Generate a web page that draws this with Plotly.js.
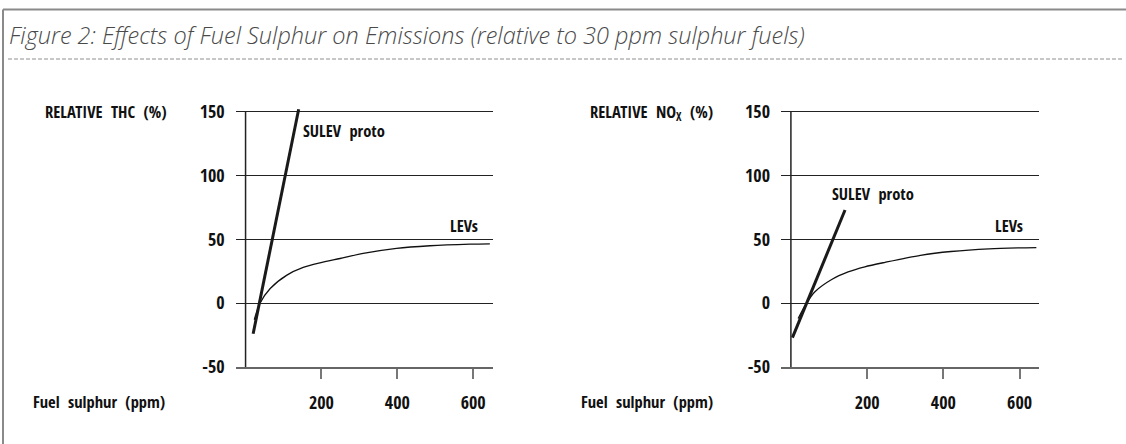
<!DOCTYPE html>
<html>
<head>
<meta charset="utf-8">
<script src="https://cdn.plot.ly/plotly-3.0.1.min.js"></script>
<style>
  html, body { margin: 0; padding: 0; background: #ffffff; }
  #chart { width: 1126px; height: 444px; }
</style>
</head>
<body>
<div id="chart"></div>
<script>
// ---- data ----
const titleText = "Figure 2: Effects of Fuel Sulphur on Emissions (relative to 30 ppm sulphur fuels)";

// Left panel: relative THC (%)
const thcSulevX = [20, 140];
const thcSulevY = [-24, 152];
const thcLevX = [23, 38, 65, 109, 152, 196, 249, 310, 398, 486, 592, 644];
const thcLevY = [-13, 0, 11.5, 22, 28, 31.6, 35, 39, 43, 45, 46.2, 46.5];

// Right panel: relative NOx (%)
const noxSulevX = [4, 142];
const noxSulevY = [-27, 73];
const noxLevX = [19, 41, 63, 107, 150, 194, 247, 340, 420, 520, 644];
const noxLevY = [-12, 0, 9, 18.6, 24.5, 28.5, 32, 37.5, 40.5, 42.6, 43.6];

const yTicks = [-50, 0, 50, 100, 150];
const yTickText = ["-50", "0", "50", "100", "150"];
const xTicks = [200, 400, 600];
const xTickText = ["200", "400", "600"];

const leftYTitle = "RELATIVE&nbsp; THC&nbsp; (%)";
const rightYTitle = "RELATIVE&nbsp; NO<sub>X</sub>&nbsp; (%)";
const xTitle = "Fuel&nbsp; sulphur&nbsp; (ppm)";
const sulevLabel = "SULEV&nbsp; proto";
const levLabel = "LEVs";

// ---- layout helpers ----
const W = 1126, H = 444;
const px = v => v / W;
const py = v => 1 - v / H;
const FONT = "'Open Sans Condensed', 'Roboto Condensed', 'DejaVu Sans Condensed', sans-serif";

const yRange = [-50, 153];
const xRange = [-26, 652];

function xAxis(domain, anchor) {
  return {
    domain: domain, anchor: anchor, range: xRange,
    showgrid: false, zeroline: false,
    showline: true, linecolor: "#666", linewidth: 2,
    ticks: "outside", ticklen: 10, tickwidth: 2, tickcolor: "#777",
    tickvals: xTicks, ticktext: xTickText,
    ticklabelstandoff: 8,
    tickfont: { family: FONT, size: 18, color: "#111", weight: 700 },
    fixedrange: true
  };
}
function yAxis(anchor) {
  return {
    domain: [py(367), py(107.9)], anchor: anchor, range: yRange,
    showgrid: true, gridcolor: "#222", gridwidth: 1.2,
    zeroline: false, showline: false, ticks: "",
    tickvals: yTicks, ticktext: yTickText,
    ticklabelstandoff: 10,
    tickfont: { family: FONT, size: 18, color: "#111", weight: 700 },
    fixedrange: true
  };
}

const traces = [
  { x: thcLevX, y: thcLevY, xaxis: "x", yaxis: "y", mode: "lines",
    line: { color: "#111", width: 1.3, shape: "spline", smoothing: 0.8 }, hoverinfo: "skip" },
  { x: thcSulevX, y: thcSulevY, xaxis: "x", yaxis: "y", mode: "lines",
    line: { color: "#1a1a1a", width: 3 }, hoverinfo: "skip" },
  { x: noxLevX, y: noxLevY, xaxis: "x2", yaxis: "y2", mode: "lines",
    line: { color: "#111", width: 1.3, shape: "spline", smoothing: 0.8 }, hoverinfo: "skip" },
  { x: noxSulevX, y: noxSulevY, xaxis: "x2", yaxis: "y2", mode: "lines",
    line: { color: "#1a1a1a", width: 3 }, hoverinfo: "skip" }
];

const labelFont = { family: FONT, size: 16.5, color: "#111", weight: 700 };

const layout = {
  width: W, height: H,
  margin: { l: 0, r: 0, t: 0, b: 0 },
  paper_bgcolor: "#ffffff", plot_bgcolor: "rgba(0,0,0,0)",
  showlegend: false,
  xaxis: xAxis([px(235.7), px(492.9)], "y"),
  yaxis: yAxis("x"),
  xaxis2: xAxis([px(781), px(1039.4)], "y2"),
  yaxis2: yAxis("x2"),
  shapes: [
    // frame: top and left border
    { type: "line", xref: "paper", yref: "paper", x0: px(3), x1: 1, y0: py(9.5), y1: py(9.5),
      line: { color: "#8a8a8a", width: 2 } },
    { type: "line", xref: "paper", yref: "paper", x0: px(3), x1: px(3), y0: py(9.5), y1: 0,
      line: { color: "#8a8a8a", width: 2 } },
    // dashed separator under title
    { type: "line", xref: "paper", yref: "paper", x0: px(8), x1: px(1123), y0: py(59), y1: py(59),
      line: { color: "#8f8f8f", width: 1.2, dash: "4px,2px" } },
    // vertical axes at x = 0
    { type: "line", xref: "x", yref: "y", x0: 0, x1: 0, y0: -50, y1: 150,
      line: { color: "#222", width: 1.5 } },
    { type: "line", xref: "x2", yref: "y2", x0: 0, x1: 0, y0: -50, y1: 150,
      line: { color: "#222", width: 1.5 } }
  ],
  annotations: [
    { text: titleText, xref: "paper", yref: "paper", x: px(7), y: py(35),
      xanchor: "left", yanchor: "middle", showarrow: false,
      font: { family: "'Open Sans', sans-serif", size: 23.5, color: "#4a4a4a", style: "italic", weight: 300 } },
    { text: leftYTitle, xref: "paper", yref: "paper", x: px(169), y: py(112),
      xanchor: "right", yanchor: "middle", showarrow: false, font: labelFont },
    { text: xTitle, xref: "paper", yref: "paper", x: px(167), y: py(401),
      xanchor: "right", yanchor: "middle", showarrow: false, font: labelFont },
    { text: rightYTitle, xref: "paper", yref: "paper", x: px(715), y: py(112),
      xanchor: "right", yanchor: "middle", showarrow: false, font: labelFont },
    { text: xTitle, xref: "paper", yref: "paper", x: px(715), y: py(401),
      xanchor: "right", yanchor: "middle", showarrow: false, font: labelFont },
    { text: sulevLabel, xref: "paper", yref: "paper", x: px(301), y: py(130),
      xanchor: "left", yanchor: "middle", showarrow: false, font: labelFont },
    { text: levLabel, xref: "paper", yref: "paper", x: px(448), y: py(225),
      xanchor: "left", yanchor: "middle", showarrow: false, font: labelFont },
    { text: sulevLabel, xref: "paper", yref: "paper", x: px(830), y: py(193),
      xanchor: "left", yanchor: "middle", showarrow: false, font: labelFont },
    { text: levLabel, xref: "paper", yref: "paper", x: px(993), y: py(225),
      xanchor: "left", yanchor: "middle", showarrow: false, font: labelFont }
  ]
};

Plotly.newPlot("chart", traces, layout, { displayModeBar: false, staticPlot: true });
</script>
</body>
</html>
